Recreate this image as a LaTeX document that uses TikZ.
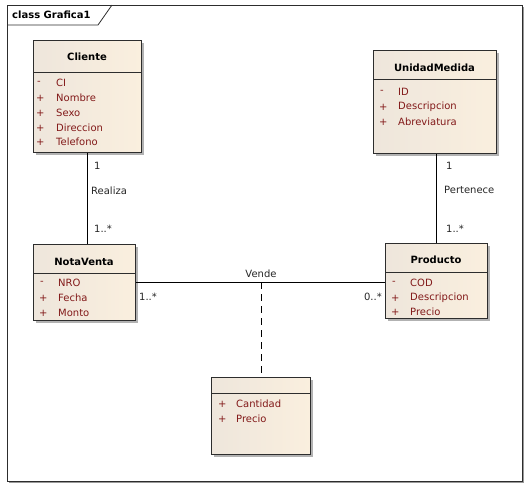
\documentclass[tikz,border=0pt]{standalone}
\usepackage{fontspec}
\setmainfont{DejaVu Sans}
\usetikzlibrary{shadows}
\definecolor{attr}{RGB}{130,25,25}
\definecolor{bord}{RGB}{45,45,45}
\definecolor{fillL}{RGB}{238,230,220}
\definecolor{fillR}{RGB}{250,239,222}
\begin{document}
\begin{tikzpicture}[x=1pt,y=-1pt, font=\fontsize{10}{12}\selectfont,
 cls/.style={draw=bord, line width=0.9pt, left color=fillL, right color=fillR, anchor=north west, inner sep=0,
   drop shadow={shadow xshift=3pt, shadow yshift=-3pt, fill=black!30, opacity=1}},
 ttl/.style={font=\fontsize{10}{12}\selectfont\bfseries, text=black, inner sep=0},
 mk/.style={text=attr, anchor=west, inner sep=0},
 attrtxt/.style={text=attr, anchor=west, inner sep=0},
 lbl/.style={anchor=west, inner sep=0, text=black!85},
 divl/.style={draw=bord, line width=0.9pt},
 conn/.style={draw=black, line width=0.8pt}]
\useasboundingbox (0,0) rectangle (531,490);
% frame
\draw[black!40, line width=0.8pt] (523.5,7) -- (523.5,482.5) -- (9,482.5);
\draw[bord, line width=0.8pt] (7,5) rectangle (522,481);
\draw[bord, line width=0.8pt] (7,25) -- (98,25) -- (112,5);
\node[anchor=west, inner sep=0, font=\fontsize{10}{12}\selectfont\bfseries] (frametitle) at (12,15) {class Grafica1};

% Cliente
\node[cls, minimum width=108, minimum height=112] (cliente) at (33,40) {};
\draw[divl] (33,72) -- (141,72);
\node[ttl] (clienteT) at (87,57) {Cliente};
\node[mk] (c1m) at (37,83) {-};  \node[attrtxt] (c1) at (56,83) {CI};
\node[mk] (c2m) at (36,98) {+};  \node[attrtxt] (c2) at (56,98) {Nombre};
\node[mk] (c3m) at (36,113) {+}; \node[attrtxt] (c3) at (56,113) {Sexo};
\node[mk] (c4m) at (36,128) {+}; \node[attrtxt] (c4) at (56,128) {Direccion};
\node[mk] (c5m) at (36,142) {+}; \node[attrtxt] (c5) at (56,142) {Telefono};

% UnidadMedida
\node[cls, minimum width=123, minimum height=103] (unidad) at (373,50) {};
\draw[divl] (373,79) -- (496,79);
\node[ttl] (unidadT) at (434.5,68) {UnidadMedida};
\node[mk] (u1m) at (380,92) {-};  \node[attrtxt] (u1) at (398,92) {ID};
\node[mk] (u2m) at (379,107) {+}; \node[attrtxt] (u2) at (398,107) {Descripcion};
\node[mk] (u3m) at (379,122) {+}; \node[attrtxt] (u3) at (398,122) {Abreviatura};

% NotaVenta
\node[cls, minimum width=102, minimum height=76] (nota) at (33,244) {};
\draw[divl] (33,273) -- (135,273);
\node[ttl] (notaT) at (84,262) {NotaVenta};
\node[mk] (n1m) at (40,283) {-};  \node[attrtxt] (n1) at (58,283) {NRO};
\node[mk] (n2m) at (39,298) {+}; \node[attrtxt] (n2) at (58,298) {Fecha};
\node[mk] (n3m) at (39,313) {+}; \node[attrtxt] (n3) at (58,313) {Monto};

% Producto
\node[cls, minimum width=102, minimum height=75] (producto) at (385,243) {};
\draw[divl] (385,272) -- (487,272);
\node[ttl] (productoT) at (436,260) {Producto};
\node[mk] (p1m) at (392,283) {-};  \node[attrtxt] (p1) at (410,283) {COD};
\node[mk] (p2m) at (391,298) {+}; \node[attrtxt] (p2) at (410,298) {Descripcion};
\node[mk] (p3m) at (391,312) {+}; \node[attrtxt] (p3) at (410,312) {Precio};

% Association class
\node[cls, minimum width=99, minimum height=77] (assoc) at (211,377) {};
\draw[divl] (211,393) -- (310,393);
\node[mk] (a1m) at (218,404) {+}; \node[attrtxt] (a1) at (236,404) {Cantidad};
\node[mk] (a2m) at (218,419) {+}; \node[attrtxt] (a2) at (236,419) {Precio};

% connectors
\draw[conn] (cliente.south) -- (cliente.south |- nota.north);
\node[lbl] (r1) at (94,166) {1};
\node[lbl] (r2) at (91,191) {Realiza};
\node[lbl] (r3) at (94,229) {1..*};

\draw[conn] (producto.north) -- (producto.north |- unidad.south);
\node[lbl] (q1) at (446,166) {1};
\node[lbl] (q2) at (444,190) {Pertenece};
\node[lbl] (q3) at (446,229) {1..*};

\draw[conn] (nota.east) -- (nota.east -| producto.west);
\node[inner sep=0, text=black!85] (vende) at (261,274) {Vende};
\node[lbl] (v1) at (139,297) {1..*};
\node[lbl, anchor=east] (v2) at (382,297) {0..*};
\draw[conn, dash pattern=on 7pt off 5pt] (assoc.north |- nota.east) -- (assoc.north);
\end{tikzpicture}
\end{document}
